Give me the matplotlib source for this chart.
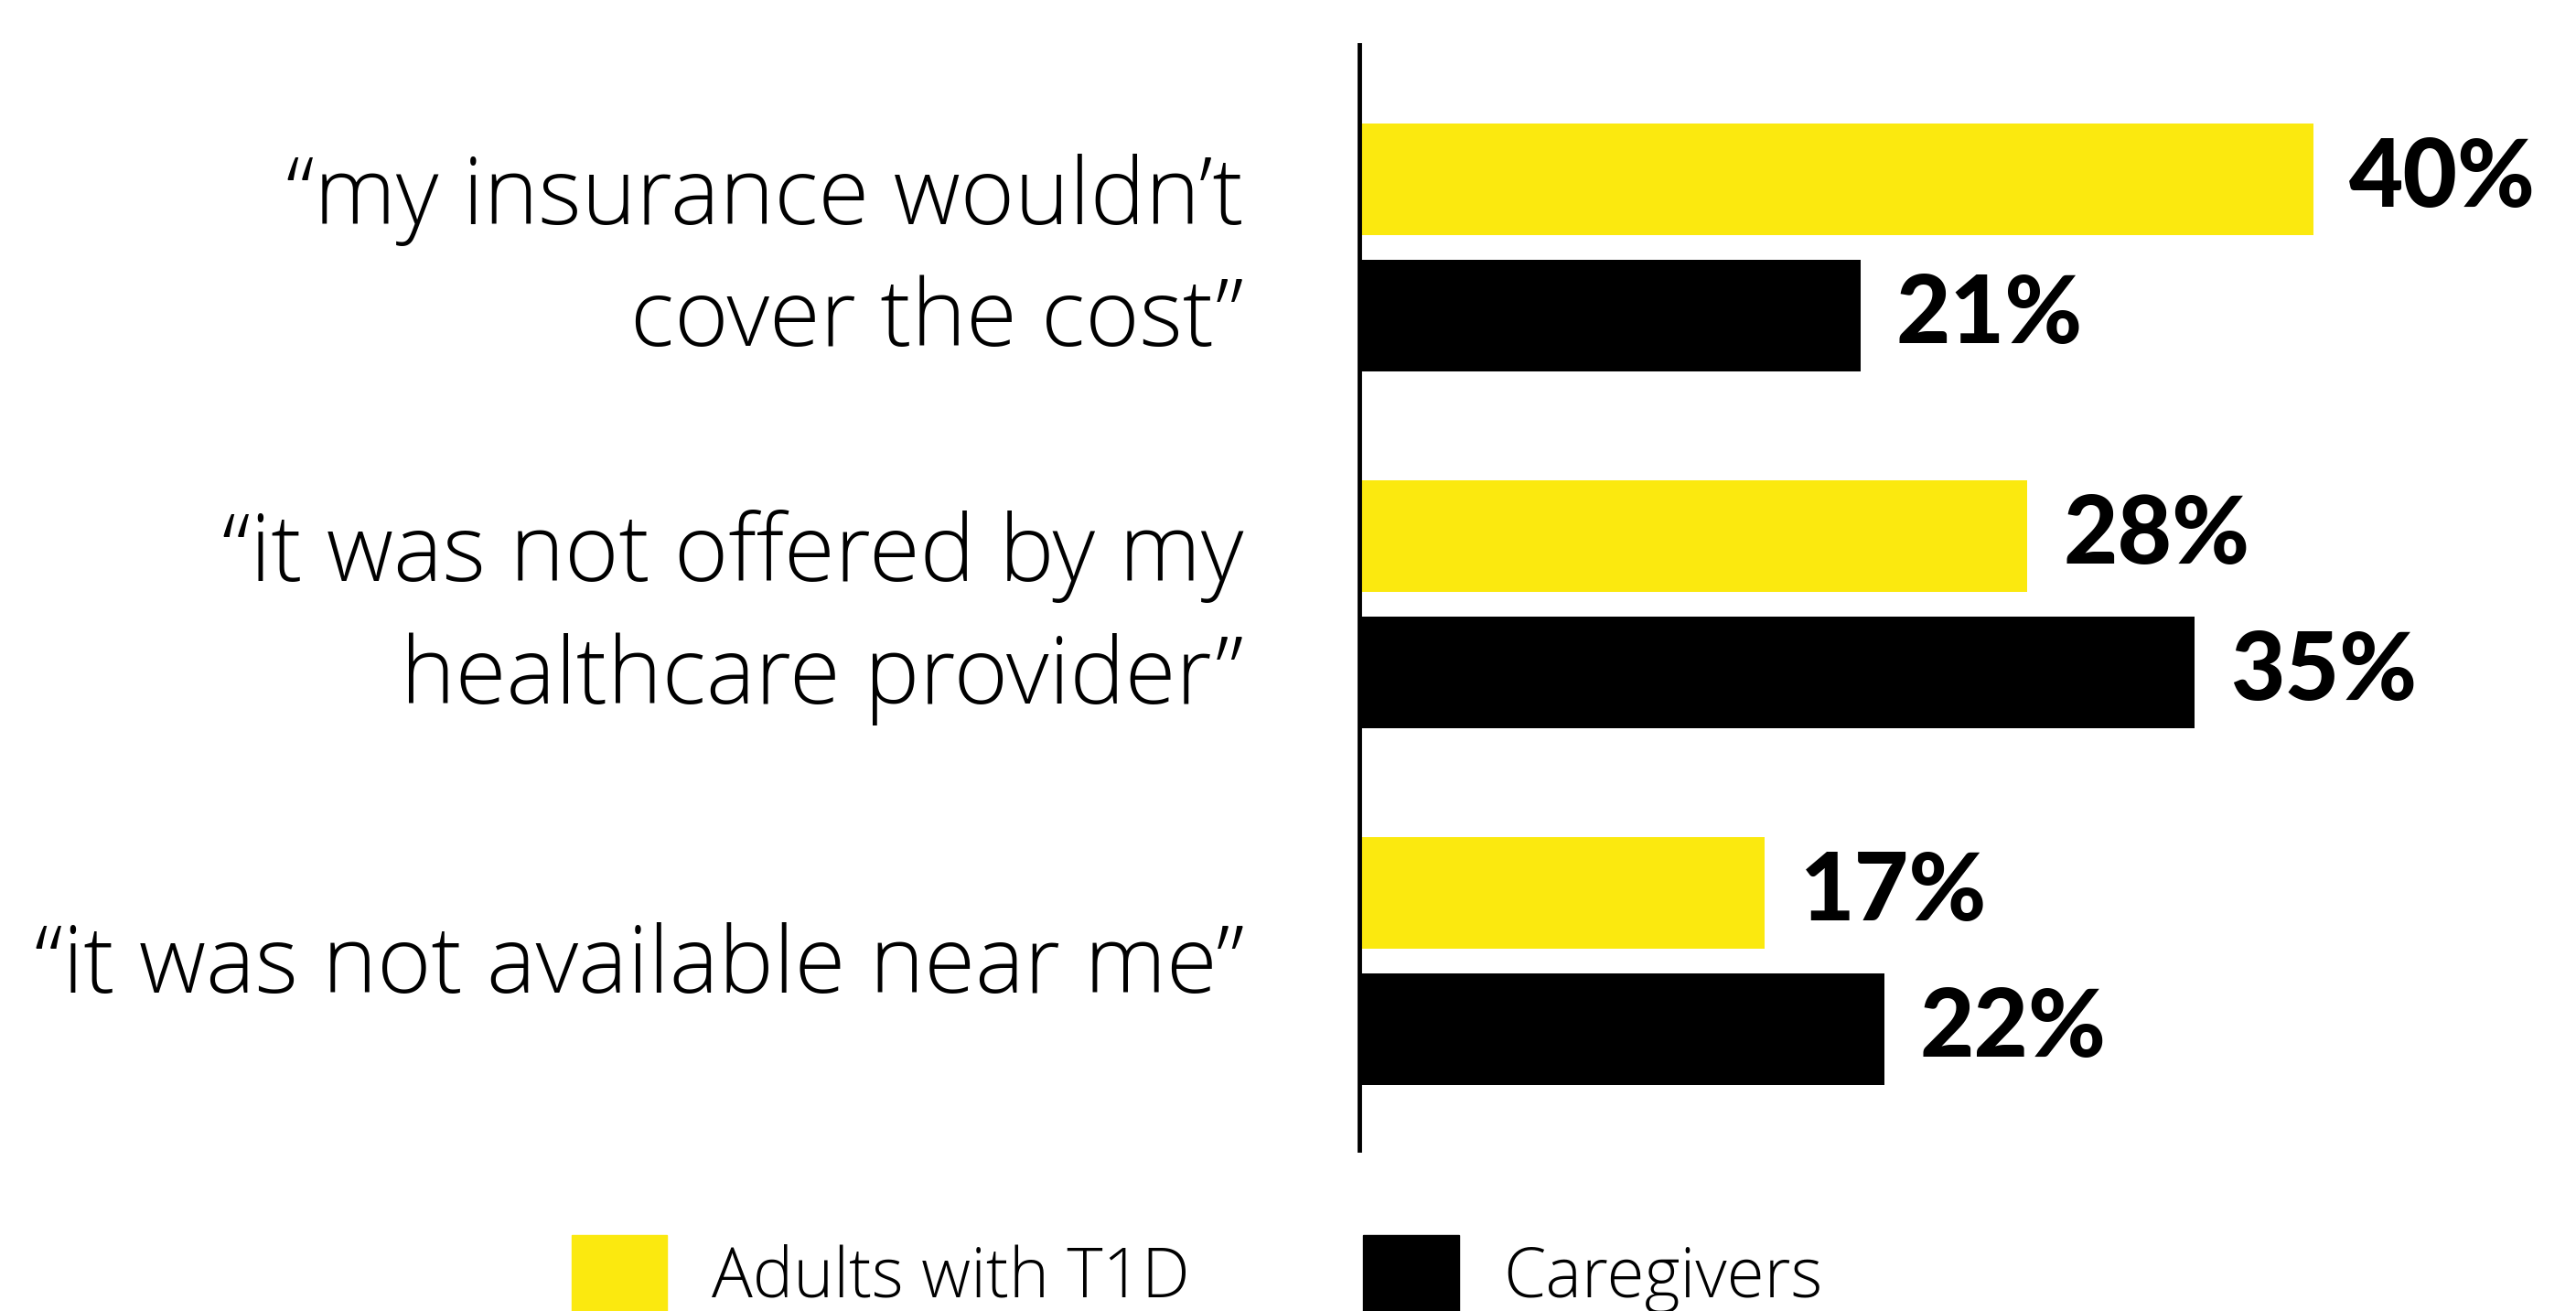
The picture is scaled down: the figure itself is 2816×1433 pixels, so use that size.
import matplotlib.pyplot as plt
from matplotlib.patches import Patch
from matplotlib.transforms import ScaledTranslation

categories = ['“my insurance wouldn’t\ncover the cost”',
              '“it was not offered by my\nhealthcare provider”',
              '“it was not available near me”']
adults = [40, 28, 17]
caregivers = [21, 35, 22]
series_names = ['Adults with T1D', 'Caregivers']

yellow = '#FBE90F'
black = '#000000'

W, H = 2816, 1433
fig = plt.figure(figsize=(W / 100, H / 100), dpi=100)
ax = fig.add_axes([1486 / W, 1 - 1257 / H, 1330 / W, 1208 / H])

pos = range(len(categories))
bh = 0.313
off = 0.191
ya = [p - off for p in pos]
yc = [p + off for p in pos]
ax.barh(ya, adults, height=bh, color=yellow)
ax.barh(yc, caregivers, height=bh, color=black)

for y, v in list(zip(ya, adults)) + list(zip(yc, caregivers)):
    ax.annotate(f'{v}%', (v, y), xytext=(28, 0), textcoords='offset points',
                va='center', ha='left', fontsize=74,
                fontfamily='Lato', fontweight='black', annotation_clip=False)

ax.set_xlim(0, 51)
ax.set_ylim(2.53, -0.568)
ax.set_yticks(list(pos))
ax.set_yticklabels(categories, fontsize=73, fontfamily='Open Sans', fontweight='light',
                   linespacing=1.42)
ax.tick_params(axis='y', length=0, pad=91)
# nudge labels up a little so the text sits centred on each group
for lbl in ax.get_yticklabels():
    dy = 10 if '\n' in lbl.get_text() else 3
    lbl.set_transform(lbl.get_transform() + ScaledTranslation(0, dy / 72, fig.dpi_scale_trans))
ax.set_xticks([])
for s in ['top', 'right', 'bottom']:
    ax.spines[s].set_visible(False)
ax.spines['left'].set_linewidth(3.5)
ax.spines['left'].set_color('black')

handles = [Patch(color=yellow), Patch(color=black)]
fig.legend(handles, series_names, ncol=2, loc='upper left',
           bbox_to_anchor=(625 / W, 1 - 1350 / H), frameon=False,
           prop={'family': 'Open Sans', 'weight': 'light', 'size': 53.7},
           handlelength=1.4, handleheight=1.4, handletextpad=0.65,
           columnspacing=2.54, borderpad=0, borderaxespad=0)

fig.savefig('out.png', dpi=100)
